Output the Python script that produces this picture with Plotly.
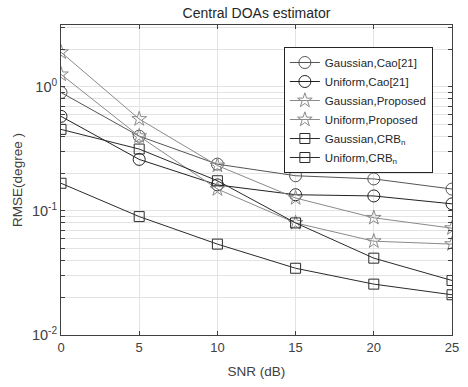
import plotly.graph_objects as go

snr = [0, 5, 10, 15, 20, 25]

gauss_cao = [0.90, 0.40, 0.238, 0.192, 0.181, 0.150]
unif_cao = [0.578, 0.26, 0.162, 0.135, 0.132, 0.114]
gauss_prop = [1.90, 0.55, 0.232, 0.127, 0.088, 0.0726]
unif_prop = [1.26, 0.40, 0.150, 0.080, 0.057, 0.054]
gauss_crb = [0.454, 0.315, 0.175, 0.080, 0.0416, 0.0275]
unif_crb = [0.167, 0.090, 0.054, 0.0345, 0.0257, 0.0211]

names = ["Gaussian,Cao[21]", "Uniform,Cao[21]", "Gaussian,Proposed",
         "Uniform,Proposed", "Gaussian,CRB<sub>n</sub>", "Uniform,CRB<sub>n</sub>"]
series = [gauss_cao, unif_cao, gauss_prop, unif_prop, gauss_crb, unif_crb]
symbols = ["circle-open", "circle-open", "star-open", "star-open", "square-open", "square-open"]
sizes = [12, 12, 11, 11, 10, 10]
colors = ["#555555", "#222222", "#8a8a8a", "#8a8a8a", "#2a2a2a", "#2a2a2a"]

fig = go.Figure()
for n, s, sym, sz, c in zip(names, series, symbols, sizes, colors):
    fig.add_trace(go.Scatter(
        x=snr, y=s, name=n, mode="lines+markers",
        line=dict(color=c, width=1),
        marker=dict(symbol=sym, size=sz, color=c, line=dict(color=c, width=1)),
    ))

# log tick positions (decades labelled, minors unlabeled)
tickvals = []
ticktext = []
for e in [-2, -1, 0]:
    for m in range(1, 10):
        v = m * 10.0 ** e
        if v > 3.15:
            break
        tickvals.append(v)
        ticktext.append(f"10<sup>{e}</sup>" if m == 1 else "")

axis_col = "#404040"
fig.update_layout(
    width=468, height=387,
    margin=dict(l=61, r=9, t=25, b=51.5),
    paper_bgcolor="white", plot_bgcolor="white",
    font=dict(family="Liberation Sans, Arial, sans-serif", size=12, color=axis_col),
    title=dict(text="Central DOAs estimator", x=0.5, xref="paper", xanchor="center",
               y=1 - 13 / 387, yanchor="middle", font=dict(size=14, color="#262626")),
    showlegend=True,
    legend=dict(x=0.57, y=0.929, xref="paper", yref="paper",
                xanchor="left", yanchor="top",
                bgcolor="white", bordercolor="#262626", borderwidth=1,
                font=dict(size=11.5, color="#262626"), tracegroupgap=0,
                itemsizing="trace"),
    xaxis=dict(title=dict(text="SNR (dB)", font=dict(size=13.5), standoff=12),
               range=[0, 25], tickvals=snr, showgrid=True, gridcolor="#e3e3e3",
               gridwidth=1, zeroline=False, showline=True, linecolor=axis_col,
               linewidth=1, mirror="ticks", ticks="inside", ticklen=4,
               tickcolor=axis_col, tickfont=dict(size=13), ticklabeloverflow="allow"),
    yaxis=dict(title=dict(text="RMSE(degree )", font=dict(size=13.5), standoff=6),
               type="log", range=[-2, 0.498], tickvals=tickvals, ticktext=ticktext,
               showgrid=True, gridcolor="#e3e3e3", gridwidth=1, zeroline=False,
               showline=True, linecolor=axis_col, linewidth=1, mirror="ticks",
               ticks="inside", ticklen=4, tickcolor=axis_col, tickfont=dict(size=14.5),
               ticklabeloverflow="allow"),
)

fig.write_html("out.html", config={"displayModeBar": False},
               post_script="document.body.style.margin='0';")
